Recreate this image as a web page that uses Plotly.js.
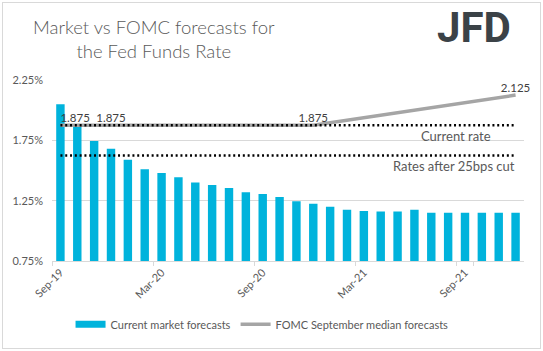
<!DOCTYPE html>
<html>
<head>
<meta charset="utf-8">
<script src="https://cdn.plot.ly/plotly-3.0.1.min.js"></script>
<style>
html,body{margin:0;padding:0;background:#fff;}
#wrap{position:relative;width:543px;height:351px;}
#chart{width:543px;height:351px;}
#frame{position:absolute;left:2px;top:2px;width:537px;height:345px;border:1px solid #d9d9d9;pointer-events:none;}
</style>
</head>
<body>
<div id="wrap"><div id="chart"></div><div id="frame"></div></div>
<script>
const months = ['Sep-19','Oct-19','Nov-19','Dec-19','Jan-20','Feb-20','Mar-20','Apr-20','May-20','Jun-20','Jul-20','Aug-20','Sep-20','Oct-20','Nov-20','Dec-20','Jan-21','Feb-21','Mar-21','Apr-21','May-21','Jun-21','Jul-21','Aug-21','Sep-21','Oct-21','Nov-21','Dec-21'];
const marketForecasts = [2.05,1.865,1.745,1.68,1.59,1.51,1.48,1.445,1.40,1.38,1.355,1.32,1.305,1.28,1.245,1.225,1.20,1.175,1.165,1.16,1.16,1.175,1.15,1.15,1.15,1.15,1.15,1.15];
const fomcMonths = ['Sep-19','Dec-19','Dec-20','Dec-21'];
const fomcMedian = [1.875,1.875,1.875,2.125];
const fomcLabels = ['1.875','1.875','1.875','2.125'];
const currentRate = 1.875;
const afterCut = 1.625;
const rangeEnds = ['Sep-19','Dec-21'];
const tickMonths = ['Sep-19','Mar-20','Sep-20','Mar-21','Sep-21'];
const yTicks = [0.75,1.25,1.75,2.25];
const yTickText = ['0.75%','1.25%','1.75%','2.25%'];

const FONT = 'Lato, "Liberation Sans", Arial, sans-serif';
const GREY = '#595959';
const BLUE = '#00B3DC';

const traces = [
  {type:'bar', x:months, y:marketForecasts, name:'Current market forecasts', showlegend:false,
   marker:{color:BLUE}, hoverinfo:'skip'},
  {type:'scatter', mode:'lines', x:[null], y:[null], name:'Current market forecasts',
   line:{color:BLUE, width:7}, hoverinfo:'skip'},
  {type:'scatter', mode:'lines', x:fomcMonths, y:fomcMedian, name:'FOMC September median forecasts',
   line:{color:'#A5A5A5', width:3.5}, hoverinfo:'skip'},
  {type:'scatter', mode:'lines', x:rangeEnds, y:[currentRate,currentRate], showlegend:false,
   line:{color:'#000', width:2.5, dash:'2px,2.8px'}, hoverinfo:'skip'},
  {type:'scatter', mode:'lines', x:rangeEnds, y:[afterCut,afterCut], showlegend:false,
   line:{color:'#000', width:2.5, dash:'2px,2.8px'}, hoverinfo:'skip'},
  {type:'scatter', mode:'text', x:fomcMonths, y:fomcMedian, text:fomcLabels, showlegend:false, cliponaxis:false,
   textposition:['top right','top center','top center','top center'],
   textfont:{family:FONT, size:11.5, color:'#404040'}, hoverinfo:'skip'}
];

const layout = {
  width:543, height:351,
  margin:{l:52, r:19, t:80, b:87},
  paper_bgcolor:'#fff', plot_bgcolor:'#fff',
  bargap:0.5,
  showlegend:true,
  font:{family:FONT, color:GREY, size:11},
  xaxis:{type:'category', categoryorder:'array', categoryarray:months,
         tickvals:tickMonths, ticktext:tickMonths, tickangle:-45, tickson:'boundaries',
         ticks:'outside', ticklen:4, tickcolor:'#d9d9d9',
         showline:true, linecolor:'#d9d9d9', linewidth:1, showgrid:false, zeroline:false,
         tickfont:{family:FONT, size:11, color:GREY}, range:[-0.5,27.5], fixedrange:true},
  yaxis:{range:[0.75,2.25], tickvals:yTicks, ticktext:yTickText,
         showgrid:true, gridcolor:'#d9d9d9', gridwidth:1, zeroline:false, showline:false,
         ticks:'', ticklabelstandoff:8, tickfont:{family:FONT, size:11, color:GREY}, fixedrange:true},
  legend:{orientation:'h', x:0.445, xanchor:'center', y:-0.35, yanchor:'middle',
          font:{family:FONT, size:11, color:GREY}, itemwidth:30, traceorder:'normal'},
  annotations:[
    {xref:'paper', yref:'paper', x:(154-52)/472, y:1+(80-38.5)/184, xanchor:'center', yanchor:'middle',
     text:'Market vs FOMC forecasts for<br>the Fed Funds Rate', showarrow:false,
     font:{family:FONT, size:18.5, color:GREY, weight:300}},
    {xref:'paper', yref:'y', x:(493-52)/472, y:currentRate, xanchor:'right', yanchor:'top', yshift:-1,
     text:'Current rate', showarrow:false, font:{family:FONT, size:13, color:GREY}},
    {xref:'paper', yref:'y', x:(517-52)/472, y:afterCut, xanchor:'right', yanchor:'top', yshift:-1,
     text:'Rates after 25bps cut', showarrow:false, font:{family:FONT, size:13, color:GREY}},
    {xref:'paper', yref:'paper', x:(474-52)/472, y:(80-27)/184+1, xanchor:'center', yanchor:'middle',
     text:'<b>JFD</b>', showarrow:false, font:{family:'Roboto, "DejaVu Sans", sans-serif', size:42, color:'#3B4247'}}
  ]
};

Plotly.newPlot('chart', traces, layout, {displayModeBar:false, staticPlot:true});
</script>
</body>
</html>
